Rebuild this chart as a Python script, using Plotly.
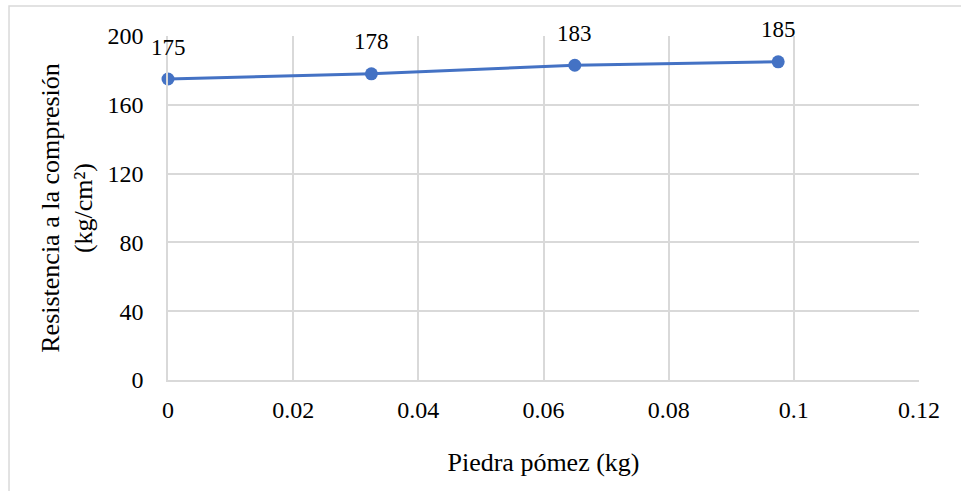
import plotly.graph_objects as go

# Pumice stone content (kg) and compressive strength (kg/cm²)
piedra_pomez = [0.0, 0.0325, 0.065, 0.0975]
resistencia = [175, 178, 183, 185]

x_ticks = [0, 0.02, 0.04, 0.06, 0.08, 0.1, 0.12]
x_tick_labels = ["0", "0.02", "0.04", "0.06", "0.08", "0.1", "0.12"]
y_ticks = [0, 40, 80, 120, 160, 200]

font_family = "Liberation Serif, Times New Roman, serif"
grid_color = "#d9d9d9"
line_color = "#4472C4"

fig = go.Figure()
fig.add_trace(go.Scatter(
    x=piedra_pomez,
    y=resistencia,
    mode="lines+markers",
    line=dict(color=line_color, width=3),
    marker=dict(color=line_color, size=13),
    cliponaxis=False,
    showlegend=False,
))

for xv, yv in zip(piedra_pomez, resistencia):
    fig.add_annotation(
        x=xv, y=yv, text=str(yv), showarrow=False,
        yshift=32, font=dict(family=font_family, size=23, color="#000000"),
    )

# light outer frame of the chart area
fig.add_shape(
    type="rect", xref="paper", yref="paper",
    x0=-0.2117, x1=1.2, y0=-0.5, y1=1.087,
    line=dict(color="#d9d9d9", width=1.5), fillcolor="rgba(0,0,0,0)",
    layer="below",
)

fig.update_layout(
    width=961,
    height=491,
    margin=dict(l=168, r=42, t=36, b=111),
    paper_bgcolor="white",
    plot_bgcolor="white",
    font=dict(family=font_family, size=24, color="#000000"),
    xaxis=dict(
        range=[0, 0.12],
        tickvals=x_ticks,
        ticktext=x_tick_labels,
        tickfont=dict(family=font_family, size=24),
        showgrid=True,
        gridcolor=grid_color,
        gridwidth=1.5,
        showline=True,
        linecolor=grid_color,
        linewidth=1.5,
        zeroline=False,
        ticks="",
        ticklabelstandoff=7,
        title=dict(text="Piedra pómez (kg)", standoff=31,
                   font=dict(family=font_family, size=26)),
    ),
    yaxis=dict(
        range=[0, 200],
        tickvals=y_ticks,
        tickfont=dict(family=font_family, size=24),
        showgrid=True,
        gridcolor=grid_color,
        gridwidth=1.5,
        showline=True,
        linecolor=grid_color,
        linewidth=1.5,
        zeroline=False,
        ticks="",
        ticklabelstandoff=18,
        title=dict(text="Resistencia a la compresión<br>(kg/cm²)", standoff=7,
                   font=dict(family=font_family, size=26)),
    ),
)

fig.write_html("out.html")
